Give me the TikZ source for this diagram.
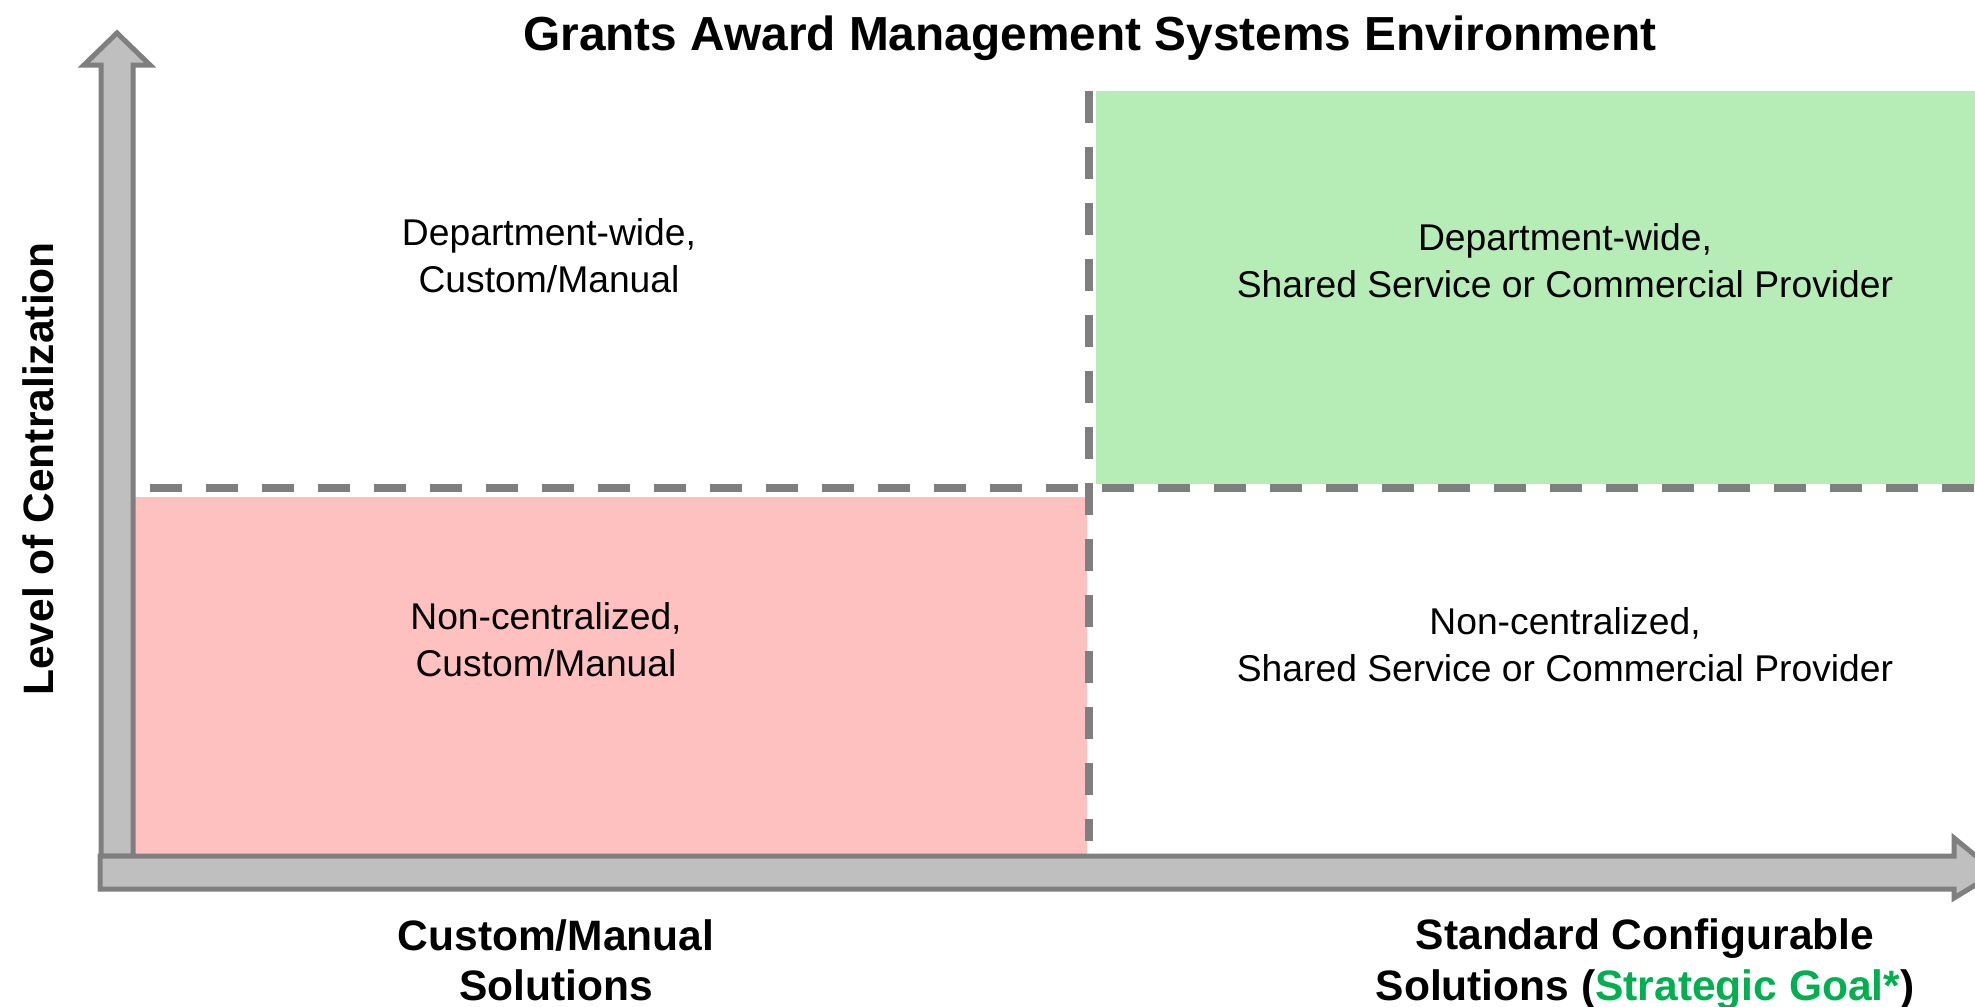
\documentclass[tikz,border=0pt]{standalone}
\usepackage{fontspec}
\setmainfont{Liberation Sans}
\usetikzlibrary{calc}
\definecolor{axisgray}{HTML}{BFBFBF}
\definecolor{edgegray}{HTML}{7F7F7F}
\definecolor{quadred}{HTML}{FFC0C0}
\definecolor{quadgreen}{HTML}{B6EDB7}
\definecolor{goalgreen}{HTML}{00B050}
\tikzset{
	quadtext/.style={align=center, font=\fontsize{10.6}{13.3}\selectfont},
	axistext/.style={align=center, font=\fontsize{12.1}{14.3}\selectfont\bfseries},
	divider/.style={line width=0.08cm, color=edgegray, dash pattern=on 0.32cm off 0.24cm},
	axisarrow/.style={fill=axisgray, draw=edgegray, line width=0.5mm}
}

\begin{document}
\begin{tikzpicture}
		%%%%% START %%%%%
		\useasboundingbox[fill=white] (0, 0) rectangle (19.75, 10.06);
		
		\fill[quadred] (1.33, 1.50) rectangle (10.87, 5.09);
		\fill[quadgreen] (10.96, 5.22) rectangle (19.75, 9.15);
		
		\draw[axisarrow] (1.01, 1.50) -- (1.01, 9.41) -- (0.84, 9.41) -- (1.17, 9.73)
			-- (1.50, 9.41) -- (1.33, 9.41) -- (1.33, 1.50) -- cycle;
		\draw[axisarrow] (1.00, 1.17) -- (19.54, 1.17) -- (19.54, 1.08) -- (19.96, 1.335)
			-- (19.54, 1.68) -- (19.54, 1.50) -- (1.00, 1.50) -- cycle;
		
		\draw[divider] (1.50, 5.18) -- (19.75, 5.18);
		\draw[divider] (10.89, 9.15) -- (10.89, 1.65);
		
		\node[font=\fontsize{13.6}{16}\selectfont\bfseries] (title) at (10.90, 9.68) {Grants Award Management Systems Environment};
		
		\node[quadtext] (deptcustom) at (5.49, 7.50) {Department-wide,\\Custom/Manual};
		\node[quadtext] (deptshared) at (15.65, 7.45) {Department-wide,\\Shared Service or Commercial Provider};
		\node[quadtext] (noncustom) at (5.46, 3.66) {Non-centralized,\\Custom/Manual};
		\node[quadtext] (nonshared) at (15.65, 3.61) {Non-centralized,\\Shared Service or Commercial Provider};
		
		\node[axistext] (customaxis) at (5.56, 0.46) {Custom/Manual\\Solutions};
		\node[axistext] (standardaxis) at (16.45, 0.42) {Standard Configurable\\Solutions (\textcolor{goalgreen}{Strategic Goal*})};
		\node[axistext, rotate=90] (levelaxis) at (0.38, 5.37) {Level of Centralization};
		
		%%%%% END %%%%%
	\end{tikzpicture}
\end{document}
